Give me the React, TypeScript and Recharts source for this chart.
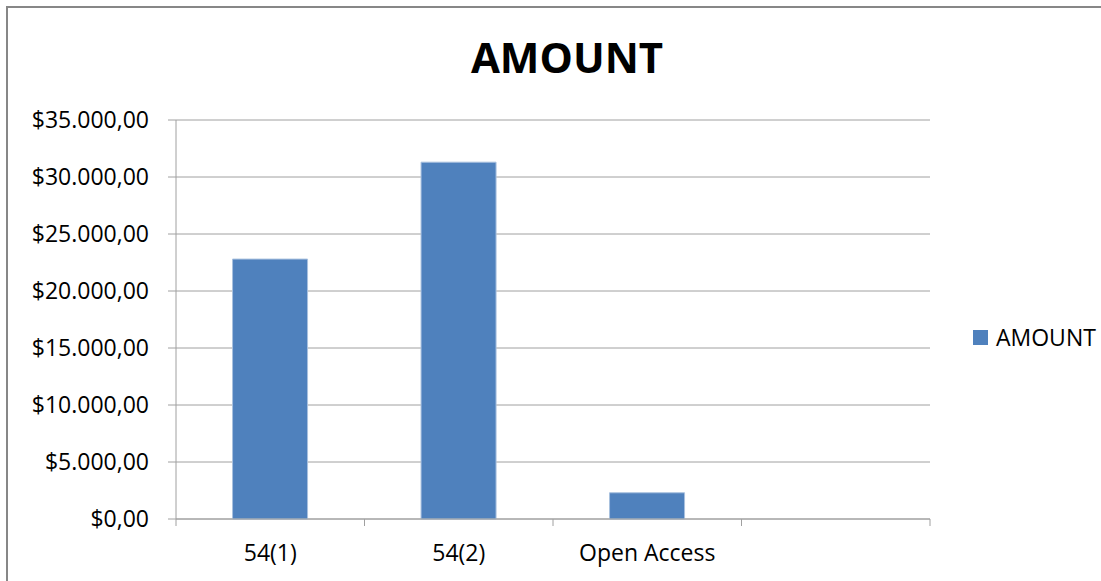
import { BarChart, Bar, XAxis, YAxis, CartesianGrid, Legend } from 'recharts'

const categories = ['54(1)', '54(2)', 'Open Access', '']
const amounts = [22800, 31300, 2300, null]
const yTicks = [0, 5000, 10000, 15000, 20000, 25000, 30000, 35000]

const data = categories.map((name, i) => ({ name, AMOUNT: amounts[i] }))

const FONT = '"Open Sans", sans-serif'
const GRID = '#a0a0a0'
const BAR = '#4f81bd'
const PLOT_W = 754
const BAND = PLOT_W / categories.length
const X_MARGIN = 22

function money(v: number) {
  const int = Math.floor(v).toString().replace(/\B(?=(\d{3})+(?!\d))/g, '.')
  return `$${int},00`
}

function XTick({ x, y, payload, index }: any) {
  const axisY = y - X_MARGIN
  const last = index === categories.length - 1
  return (
    <g>
      <line x1={x - BAND / 2} x2={x - BAND / 2} y1={axisY} y2={axisY + 7} stroke={GRID} />
      {last && <line x1={x + BAND / 2} x2={x + BAND / 2} y1={axisY} y2={axisY + 7} stroke={GRID} />}
      <text x={x} y={y} dy={20} textAnchor="middle" fill="#000" fontSize={23} fontFamily={FONT}>
        {payload.value}
      </text>
    </g>
  )
}

function LegendBox() {
  return (
    <div style={{ display: 'flex', alignItems: 'center', fontFamily: FONT, fontSize: 23, lineHeight: '30px', color: '#000' }}>
      <span style={{ width: 15, height: 15, background: BAR, marginRight: 8, display: 'inline-block' }} />
      AMOUNT
    </div>
  )
}

export default function App() {
  return (
    <div style={{ position: 'absolute', left: 0, top: 0, width: 1101, height: 581, overflow: 'hidden', background: '#fff' }}>
      <div style={{ position: 'absolute', left: 6, top: 6, width: 1200, height: 700, border: '2px solid #878787' }} />
      <div
        style={{
          position: 'absolute', left: 367, top: 36, width: 400, textAlign: 'center',
          fontFamily: FONT, fontWeight: 700, fontSize: 42, lineHeight: '42px', color: '#000',
        }}
      >
        AMOUNT
      </div>
      <BarChart
        width={1101}
        height={581}
        data={data}
        margin={{ top: 120, right: 171, bottom: 0, left: 0 }}
        barCategoryGap="30%"
        style={{ position: 'absolute', left: 0, top: 0 }}
      >
        <CartesianGrid vertical={false} stroke={GRID} />
        <XAxis
          dataKey="name"
          height={62}
          interval={0}
          stroke={GRID}
          tickLine={false}
          tickSize={0}
          tickMargin={X_MARGIN}
          tick={<XTick />}
        />
        <YAxis
          width={176}
          domain={[0, 35000]}
          ticks={yTicks}
          tickFormatter={money}
          stroke={GRID}
          tickSize={8}
          tickMargin={19}
          tick={{ fill: '#000', fontSize: 23, fontFamily: FONT }}
        />
        <Legend
          layout="horizontal"
          align="center"
          verticalAlign="middle"
          content={<LegendBox />}
          wrapperStyle={{ left: 973, top: 322, width: 'auto' }}
        />
        <Bar dataKey="AMOUNT" fill={BAR} stroke="#a8c0de" strokeWidth={1} isAnimationActive={false} />
      </BarChart>
    </div>
  )
}
